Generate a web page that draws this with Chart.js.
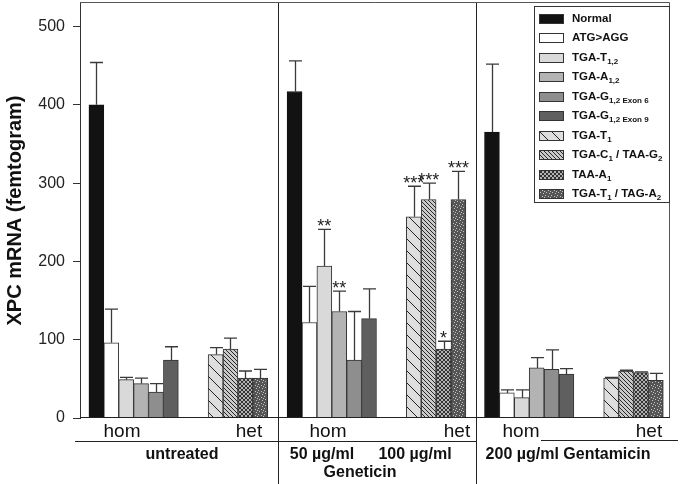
<!DOCTYPE html>
<html>
<head>
<meta charset="utf-8">
<script src="https://cdn.jsdelivr.net/npm/chart.js@4/dist/chart.umd.min.js"></script>
<style>
  body { margin: 0; background: #fff; font-family: "Liberation Sans", Arial, sans-serif; }
  #wrap { position: relative; width: 680px; height: 484px; }
  #chart { position: absolute; left: 0; top: 0; }
  #legend { position: absolute; left: 534px; top: 6px; width: 136px; height: 197px; box-sizing: border-box;
            border: 1px solid #333; background: #fff; }
  .item { position: absolute; left: 4px; height: 20px; display: flex; align-items: center; }
  .item canvas { display: block; }
  .item span { margin-left: 8px; font-size: 11.5px; font-weight: bold; color: #111; line-height: 1; white-space: nowrap; }
  .item sub { font-size: 8px; vertical-align: -3px; line-height: 0; }
  .lbl { position: absolute; transform: translateX(-50%); white-space: nowrap; line-height: 1; color: #111; }
</style>
</head>
<body>
<div id="wrap">
  <canvas id="chart" width="680" height="484"></canvas>
  <div id="legend"></div>
  <div id="labels"></div>
</div>
<script>
// ---- data ----
const yTitle = "XPC mRNA (femtogram)";
const treatments = ["untreated", "Geneticin", "Gentamicin"];
const seriesLabels = [
  "Normal", "ATG&gt;AGG", "TGA-T<sub>1,2</sub>", "TGA-A<sub>1,2</sub>",
  "TGA-G<sub>1,2 Exon 6</sub>", "TGA-G<sub>1,2 Exon 9</sub>", "TGA-T<sub>1</sub>",
  "TGA-C<sub>1</sub> / TAA-G<sub>2</sub>", "TAA-A<sub>1</sub>", "TGA-T<sub>1</sub> / TAG-A<sub>2</sub>"
];
const yTicks = [0, 100, 200, 300, 400, 500];

// one value per treatment (untreated, Geneticin, Gentamicin)
const normal   = [400, 417, 365];
const atgAgg   = [96, 122, 32];
const tgaT12   = [49, 194, 26];
const tgaA12   = [44, 136, 64];
const tgaG12e6 = [33, 74, 62];
const tgaG12e9 = [74, 127, 56];
const tgaT1    = [81, 257, 51];
const tgaC1    = [88, 279, 60];
const taaA1    = [51, 88, 58];
const tgaT1Tag = [51, 279, 48];

// upper error (SD)
const normalErr   = [54, 39, 87];
const atgAggErr   = [43, 46, 4];
const tgaT12Err   = [3, 47, 10];
const tgaA12Err   = [7, 26, 13];
const tgaG12e6Err = [11, 62, 25];
const tgaG12e9Err = [17, 38, 7];
const tgaT1Err    = [9, 39, 1];
const tgaC1Err    = [14, 21, 1];
const taaA1Err    = [9, 10, 1];
const tgaT1TagErr = [11, 36, 9];

const stars = {
  2: ["", "**", ""], 3: ["", "**", ""],
  6: ["", "***", ""], 7: ["", "***", ""], 8: ["", "*", ""], 9: ["", "***", ""]
};

const values = [normal, atgAgg, tgaT12, tgaA12, tgaG12e6, tgaG12e9, tgaT1, tgaC1, taaA1, tgaT1Tag];
const errors = [normalErr, atgAggErr, tgaT12Err, tgaA12Err, tgaG12e6Err, tgaG12e9Err, tgaT1Err, tgaC1Err, taaA1Err, tgaT1TagErr];

// ---- layout (x in bar-slot units) ----
const panelStart = [0, 13.3, 26.55];
const xMax = 39.6;
const homOffset = 0.6, hetOffset = 8.6;
const fills = ["#121212", "#ffffff", "#d9d9d9", "#b3b3b3", "#8e8e8e", "#5f5f5f", "sparse", "dense", "cross", "dots"];

function makeTile(kind) {
  const c = document.createElement("canvas");
  const g = c.getContext("2d");
  if (kind === "sparse") {
    c.width = c.height = 12;
    g.fillStyle = "#dedede"; g.fillRect(0, 0, 12, 12);
    g.strokeStyle = "#222"; g.lineWidth = 1;
    g.beginPath();
    g.moveTo(-2, -2); g.lineTo(14, 14);
    g.moveTo(-2, 10); g.lineTo(2, 14);
    g.moveTo(10, -2); g.lineTo(14, 2);
    g.stroke();
  } else if (kind === "dense") {
    c.width = c.height = 4;
    g.fillStyle = "#cacaca"; g.fillRect(0, 0, 4, 4);
    g.strokeStyle = "#2a2a2a"; g.lineWidth = 1;
    g.beginPath();
    g.moveTo(-1, -1); g.lineTo(5, 5);
    g.moveTo(-1, 3); g.lineTo(1, 5);
    g.moveTo(3, -1); g.lineTo(5, 1);
    g.stroke();
  } else if (kind === "cross") {
    c.width = c.height = 4;
    g.fillStyle = "#b0b0b0"; g.fillRect(0, 0, 4, 4);
    g.strokeStyle = "#333"; g.lineWidth = 1;
    g.beginPath();
    g.moveTo(-1, -1); g.lineTo(5, 5);
    g.moveTo(5, -1); g.lineTo(-1, 5);
    g.stroke();
  } else {
    c.width = c.height = 6;
    g.fillStyle = "#555"; g.fillRect(0, 0, 6, 6);
    g.fillStyle = "#c4c4c4";
    [[0, 0], [3, 1], [1, 3], [4, 4], [5, 2]].forEach(p => g.fillRect(p[0], p[1], 1, 1));
  }
  return c;
}

function fillFor(ctx, f) {
  return f.startsWith("#") ? f : ctx.createPattern(makeTile(f), "repeat");
}

const canvas = document.getElementById("chart");
const mainCtx = canvas.getContext("2d");

const datasets = values.map((vals, i) => {
  const het = i >= 6;
  const slot = het ? i - 6 : i;
  return {
    label: seriesLabels[i].replace(/<[^>]+>/g, ""),
    data: vals.map((v, k) => ({ x: panelStart[k] + (het ? hetOffset : homOffset) + slot + 0.5, y: v })),
    errors: errors[i],
    stars: stars[i] || ["", "", ""],
    backgroundColor: fillFor(mainCtx, fills[i]),
    borderColor: i === 0 ? "#111" : "#333",
    borderWidth: 1,
    grouped: false,
    barPercentage: 1,
    categoryPercentage: 1
  };
});

// ---- plugins ----
const errorBars = {
  id: "errorBars",
  afterDatasetsDraw(chart) {
    const ctx = chart.ctx, y = chart.scales.y;
    ctx.save();
    ctx.strokeStyle = "#3a3a3a";
    ctx.lineWidth = 1.3;
    ctx.fillStyle = "#222";
    ctx.font = '18px "Liberation Sans", Arial, sans-serif';
    ctx.textAlign = "center";
    chart.data.datasets.forEach((ds, i) => {
      chart.getDatasetMeta(i).data.forEach((bar, j) => {
        const v = ds.data[j].y;
        const top = y.getPixelForValue(v + ds.errors[j]);
        const x = Math.round(bar.x) + 0.5;
        ctx.beginPath();
        ctx.moveTo(x, bar.y);
        ctx.lineTo(x, top);
        ctx.moveTo(x - 6.5, top);
        ctx.lineTo(x + 6.5, top);
        ctx.stroke();
        if (ds.stars[j]) ctx.fillText(ds.stars[j], bar.x, top + 3);
      });
    });
    ctx.restore();
  }
};

const frame = {
  id: "frame",
  afterDraw(chart) {
    const ctx = chart.ctx;
    const { left, right, top, bottom } = chart.chartArea;
    const x = chart.scales.x;
    ctx.save();
    ctx.lineWidth = 1;
    ctx.strokeStyle = "#555";
    ctx.beginPath();
    ctx.moveTo(left, top - 0.5); ctx.lineTo(right - 0.5, top - 0.5);
    ctx.lineTo(right - 0.5, bottom);
    ctx.stroke();
    ctx.strokeStyle = "#222";
    ctx.beginPath();
    ctx.moveTo(left, bottom - 0.5); ctx.lineTo(right, bottom - 0.5);
    const seps = panelStart.slice(1).map(p => Math.round(x.getPixelForValue(p)) + 0.5);
    seps.forEach(sx => { ctx.moveTo(sx, top); ctx.lineTo(sx, 484); });
    // rule under hom / het
    ctx.moveTo(75, 441.5); ctx.lineTo(seps[1], 441.5);
    ctx.moveTo(541, 440.5); ctx.lineTo(678, 440.5);
    ctx.stroke();
    ctx.restore();
  }
};

new Chart(canvas, {
  type: "bar",
  data: { datasets },
  options: {
    responsive: false,
    animation: false,
    layout: { padding: { top: 3, right: 10, bottom: 66, left: 0 } },
    plugins: { legend: { display: false }, tooltip: { enabled: false } },
    scales: {
      x: {
        type: "linear",
        display: false,
        offset: false,
        min: 0,
        max: xMax,
        afterBuildTicks: s => { s.ticks = panelStart.concat([xMax]).map(v => ({ value: v })); }
      },
      y: {
        min: 0,
        max: 530,
        afterBuildTicks: s => { s.ticks = yTicks.map(v => ({ value: v })); },
        afterFit: s => { s.width = 80; s.paddingTop = 0; s.paddingBottom = 0; },
        ticks: { color: "#222", padding: 8, font: { family: '"Liberation Sans", Arial, sans-serif', size: 16 } },
        grid: { drawOnChartArea: false, tickLength: 7, color: "#333" },
        border: { color: "#333", width: 1 },
        title: {
          display: true,
          text: yTitle,
          color: "#111",
          padding: { top: 3, bottom: 0 },
          font: { family: '"Liberation Sans", Arial, sans-serif', size: 20, weight: "bold" }
        }
      }
    }
  },
  plugins: [errorBars, frame]
});

// ---- legend ----
const legend = document.getElementById("legend");
seriesLabels.forEach((lab, i) => {
  const row = document.createElement("div");
  row.className = "item";
  row.style.top = (1.5 + i * 19.5) + "px";
  const sw = document.createElement("canvas");
  sw.width = 25; sw.height = 10;
  const g = sw.getContext("2d");
  g.fillStyle = fillFor(g, fills[i]);
  g.fillRect(0, 0, 25, 10);
  g.strokeStyle = "#333";
  g.strokeRect(0.5, 0.5, 24, 9);
  const tx = document.createElement("span");
  tx.innerHTML = lab;
  row.appendChild(sw);
  row.appendChild(tx);
  legend.appendChild(row);
});

// ---- group labels under the axis ----
const groupLabels = [
  { t: "hom", x: 122, top: 421, size: 19 }, { t: "het", x: 249, top: 421, size: 19 },
  { t: "hom", x: 328, top: 421, size: 19 }, { t: "het", x: 457, top: 421, size: 19 },
  { t: "hom", x: 521, top: 421, size: 19 }, { t: "het", x: 649, top: 421, size: 19 },
  { t: treatments[0], x: 182, top: 446, size: 16, bold: true },
  { t: "50 µg/ml", x: 322, top: 446, size: 16, bold: true },
  { t: "100 µg/ml", x: 415, top: 446, size: 16, bold: true },
  { t: treatments[1], x: 360, top: 464, size: 16, bold: true },
  { t: "200 µg/ml " + treatments[2], x: 568, top: 446, size: 16, bold: true }
];
const labelsBox = document.getElementById("labels");
groupLabels.forEach(l => {
  const d = document.createElement("div");
  d.className = "lbl";
  d.textContent = l.t;
  d.style.left = l.x + "px";
  d.style.top = l.top + "px";
  d.style.fontSize = l.size + "px";
  if (l.bold) d.style.fontWeight = "bold";
  labelsBox.appendChild(d);
});
</script>
</body>
</html>
